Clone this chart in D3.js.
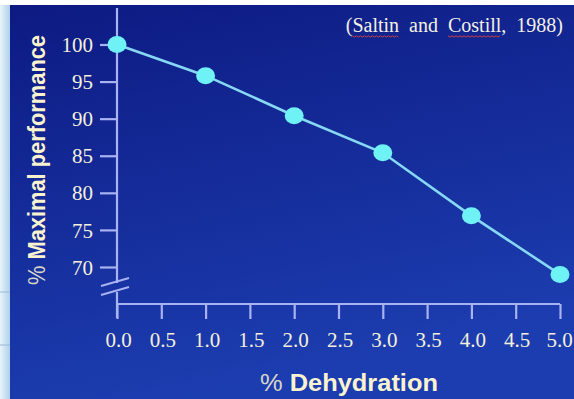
<!DOCTYPE html>
<html><head><meta charset="utf-8">
<script src="https://cdn.jsdelivr.net/npm/d3@7"></script>
<style>html,body{margin:0;padding:0;background:#fff;overflow:hidden}</style>
</head><body>
<svg id="c" width="574" height="399"></svg>
<script>
const dehydration = [0, 1, 2, 3, 4, 5];
const performance = [100, 95.8, 90.4, 85.4, 76.9, 69.0];
const xTicks = [0, 0.5, 1, 1.5, 2, 2.5, 3, 3.5, 4, 4.5, 5];
const yTicks = [70, 75, 80, 85, 90, 95, 100];
const citation = ["(", "Saltin", "  and  ", "Costill", ",  1988)"];

const svg = d3.select("#c");
const defs = svg.append("defs");
const g1 = defs.append("linearGradient").attr("id","bg").attr("x1",0).attr("y1",0).attr("x2",0.3).attr("y2",1);
g1.append("stop").attr("offset","0%").attr("stop-color","#0d1a82");
g1.append("stop").attr("offset","100%").attr("stop-color","#1c3db0");
const g2 = defs.append("linearGradient").attr("id","edge").attr("x1",0).attr("y1",0).attr("x2",1).attr("y2",0);
g2.append("stop").attr("offset","0%").attr("stop-color","#e8f4fb");
g2.append("stop").attr("offset","100%").attr("stop-color","#a9cde8");

svg.append("rect").attr("x",0).attr("y",0).attr("width",574).attr("height",399).attr("fill","#ffffff");
svg.append("rect").attr("x",0).attr("y",5).attr("width",11).attr("height",394).attr("fill","url(#edge)");
svg.append("line").attr("x1",0).attr("x2",11).attr("y1",292).attr("y2",292).attr("stroke","#9bb8d8").attr("stroke-width",1);
svg.append("line").attr("x1",0).attr("x2",11).attr("y1",345).attr("y2",345).attr("stroke","#9bb8d8").attr("stroke-width",1);
svg.append("rect").attr("x",10).attr("y",5).attr("width",564).attr("height",394).attr("fill","url(#bg)");

const x = d3.scaleLinear().domain([0,5]).range([117,560]);
const y = d3.scaleLinear().domain([70,100]).range([267,44.5]);
const axisCol = "#a9b2f2";
const labelCol = "#f4f0dc";
const serif = "Liberation Serif, Times New Roman, serif";

// Y axis (upper part with break)
const yAxis = d3.axisLeft(y).tickValues(yTicks).tickSize(17).tickPadding(6).tickFormat(d3.format("d"));
const ya = svg.append("g").attr("transform","translate(117,0)").call(yAxis);
ya.select(".domain").remove();
ya.selectAll(".tick line").attr("stroke",axisCol).attr("stroke-width",2.2);
ya.selectAll(".tick text").attr("fill",labelCol).attr("font-family",serif).attr("font-size",21).attr("dx",-1).attr("dy","0.34em");
svg.append("line").attr("x1",117).attr("x2",117).attr("y1",8).attr("y2",283).attr("stroke",axisCol).attr("stroke-width",2.2);
svg.append("line").attr("x1",117).attr("x2",117).attr("y1",292).attr("y2",318).attr("stroke",axisCol).attr("stroke-width",2.2);
// break marks
svg.append("line").attr("x1",101).attr("y1",286).attr("x2",129).attr("y2",278).attr("stroke",axisCol).attr("stroke-width",2);
svg.append("line").attr("x1",101).attr("y1",295).attr("x2",129).attr("y2",287).attr("stroke",axisCol).attr("stroke-width",2);

// X axis
const xAxis = d3.axisBottom(x).tickValues(xTicks).tickSize(15).tickPadding(4).tickFormat(d3.format(".1f"));
const xa = svg.append("g").attr("transform","translate(0,304)").call(xAxis);
xa.select(".domain").attr("stroke",axisCol).attr("stroke-width",2.2).attr("d","M117,0H560");
xa.selectAll(".tick line").attr("stroke",axisCol).attr("stroke-width",2.2);
xa.selectAll(".tick text").attr("fill",labelCol).attr("font-family",serif).attr("font-size",21).attr("dx",d => d === 5 ? -1 : 1).attr("y",28).attr("dy","0.71em");

// Line + points
const data = dehydration.map((d,i)=>({x:d,y:performance[i]}));
svg.append("path").datum(data).attr("fill","none").attr("stroke","#86d8f4").attr("stroke-width",2.6)
  .attr("d", d3.line().x(d=>x(d.x)).y(d=>y(d.y)));
svg.selectAll("ellipse.pt").data(data).join("ellipse").attr("class","pt")
  .attr("cx",d=>x(d.x)).attr("cy",d=>y(d.y)).attr("rx",9.5).attr("ry",8.5).attr("fill","#6ff2f6");

// Axis titles
const yt = svg.append("text").attr("transform","translate(45,160) rotate(-90)").attr("text-anchor","middle")
  .attr("font-family","Liberation Sans, Arial, sans-serif").attr("font-size",23).attr("font-weight","bold").attr("fill","#fbf3cf")
  .attr("textLength",250).attr("lengthAdjust","spacingAndGlyphs");
yt.append("tspan").attr("font-weight","normal").attr("fill","#d9d6c8").text("% ");
yt.append("tspan").text("Maximal performance");
const xt = svg.append("text").attr("x",349).attr("y",391).attr("text-anchor","middle")
  .attr("font-family","Liberation Sans, Arial, sans-serif").attr("font-size",24).attr("font-weight","bold").attr("fill","#fbf3cf")
  .attr("textLength",178).attr("lengthAdjust","spacingAndGlyphs");
xt.append("tspan").attr("font-weight","normal").attr("fill","#d9d6c8").text("% ");
xt.append("tspan").text("Dehydration");

// Citation
const ct = svg.append("text").attr("x",563).attr("y",32).attr("text-anchor","end")
  .attr("font-family",serif).attr("font-size",20).attr("fill","#f4f0e4")
  .attr("xml:space","preserve").style("white-space","pre");
const spans = citation.map(s => ct.append("tspan").text(s));
[1,3].forEach(i => {
  const b = spans[i].node().getBBox();
  const pts = [];
  for (let px = b.x; px <= b.x + b.width; px += 2) pts.push([px, 36 + ((Math.round((px-b.x)/2)) % 2 ? 1.2 : -0.2)]);
  svg.append("path").attr("d", d3.line()(pts)).attr("fill","none").attr("stroke","#d04040").attr("stroke-width",1);
});
</script>
</body></html>
